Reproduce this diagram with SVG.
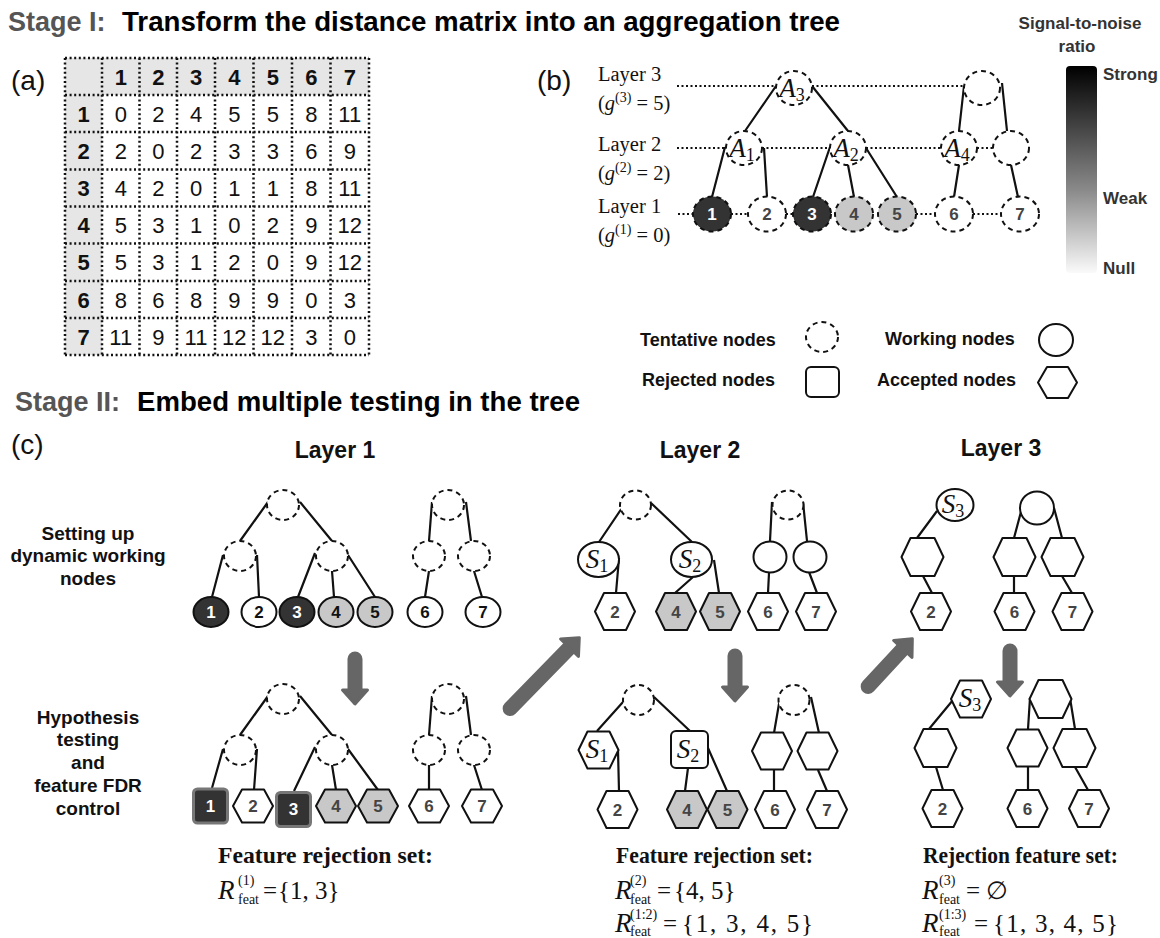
<svg xmlns="http://www.w3.org/2000/svg" width="1160" height="938" viewBox="0 0 1160 938">
<defs>
<style>
.title{font-family:"Liberation Sans",Arial,sans-serif;font-weight:bold;font-size:27px;fill:#000}
.stage{fill:#555}
.lbl{font-family:"Liberation Sans",Arial,sans-serif;font-size:28px;fill:#111}
.mh{font-family:"Liberation Sans",Arial,sans-serif;font-size:22px;font-weight:bold;text-anchor:middle;fill:#111}
.mc{font-family:"Liberation Sans",Arial,sans-serif;font-size:22px;text-anchor:middle;fill:#111}
.grid{stroke:#111;stroke-width:2.5;stroke-dasharray:2 2.6;fill:none}
.t{fill:#fff;stroke:#111;stroke-width:2;stroke-dasharray:5 4}
.w{fill:#fff;stroke:#111;stroke-width:2;stroke-linejoin:round}
.dk{fill:#333}
.gr{fill:#c8c8c8}
.edge{stroke:#111;stroke-width:2.2;fill:none}
.guide{stroke:#111;stroke-width:2;stroke-dasharray:2 2.5;fill:none}
.num{font-family:"Liberation Sans",Arial,sans-serif;font-weight:bold;font-size:17px;text-anchor:middle;fill:#444}
.numw{fill:#fff}
.numb{fill:#111}
.ll{font-family:"Liberation Serif","Times New Roman",serif;font-size:20.5px;fill:#111}
.var{font-family:"Liberation Serif","Times New Roman",serif;font-style:italic;font-size:27px;fill:#111}
.vsub{font-family:"Liberation Serif","Times New Roman",serif;font-style:normal;font-size:18px}
.leg{font-family:"Liberation Sans",Arial,sans-serif;font-weight:bold;font-size:18px;fill:#111}
.side{font-family:"Liberation Sans",Arial,sans-serif;font-weight:bold;font-size:19px;fill:#111;text-anchor:middle}
.lh{font-family:"Liberation Sans",Arial,sans-serif;font-weight:bold;font-size:23px;fill:#111;text-anchor:middle}
.snr{font-family:"Liberation Sans",Arial,sans-serif;font-weight:bold;font-size:17px;fill:#333}
.fr{font-family:"Liberation Serif","Times New Roman",serif;font-weight:bold;font-size:23px;fill:#111}
.mi{font-family:"Liberation Serif","Times New Roman",serif;font-style:italic;font-size:27px;fill:#111}
.ms{font-family:"Liberation Serif","Times New Roman",serif;font-size:14px;fill:#111}
.mr{font-family:"Liberation Serif","DejaVu Serif","Times New Roman",serif;font-size:25px;fill:#111}
.arrow line{stroke:#666;stroke-width:15;stroke-linecap:round}
.arrow polygon{fill:#666;stroke:#666;stroke-width:3;stroke-linejoin:round}
.rej{fill:#333;stroke:#777;stroke-width:3}
</style>
<linearGradient id="snrGrad" x1="0" y1="0" x2="0" y2="1">
<stop offset="0" stop-color="#000"/>
<stop offset="0.6" stop-color="#8a8a8a"/>
<stop offset="1" stop-color="#fafafa"/>
</linearGradient>
<polygon id="hA" points="-20,0 -11,-16.5 11,-16.5 20,0 11,16.5 -11,16.5"/>
<polygon id="hB" points="-20,0 -11,-18.5 11,-18.5 20,0 11,18.5 -11,18.5"/>
<polygon id="hC" points="-21,0 -12,-19 12,-19 21,0 12,19 -12,19"/>
</defs>
<rect width="1160" height="938" fill="#fff"/>

<!-- Titles -->
<text class="title" x="8" y="31"><tspan class="stage">Stage I:</tspan></text>
<text class="title" x="122" y="31" textLength="718" lengthAdjust="spacingAndGlyphs">Transform the distance matrix into an aggregation tree</text>
<text class="title" x="15" y="411"><tspan class="stage">Stage II:</tspan></text>
<text class="title" x="137" y="411" textLength="443" lengthAdjust="spacingAndGlyphs">Embed multiple testing in the tree</text>

<!-- Panel (a) matrix -->
<g id="matrix">
<text class="lbl" x="11" y="90">(a)</text>
<rect x="65" y="58" width="304" height="37" fill="#e6e6e6"/>
<rect x="65" y="95" width="37" height="260" fill="#e6e6e6"/>
<path class="grid" d="M65,58V355M102,58V355M139.5,58V355M177,58V355M215,58V355M253.5,58V355M292,58V355M330.5,58V355M369,58V355M65,58H369M65,95H369M65,132H369M65,169.5H369M65,206.5H369M65,243.5H369M65,281H369M65,318H369M65,355H369"/>
<g class="mh">
<text x="120.75" y="84.5">1</text><text x="158.25" y="84.5">2</text><text x="196" y="84.5">3</text><text x="234.25" y="84.5">4</text><text x="272.75" y="84.5">5</text><text x="311.25" y="84.5">6</text><text x="349.75" y="84.5">7</text>
<text x="83.5" y="121.5">1</text><text x="83.5" y="158.75">2</text><text x="83.5" y="196">3</text><text x="83.5" y="233">4</text><text x="83.5" y="270.25">5</text><text x="83.5" y="307.5">6</text><text x="83.5" y="344.5">7</text>
</g>
<g class="mc">
<text x="120.75" y="121.5">0</text><text x="158.25" y="121.5">2</text><text x="196" y="121.5">4</text><text x="234.25" y="121.5">5</text><text x="272.75" y="121.5">5</text><text x="311.25" y="121.5">8</text><text x="349.75" y="121.5">11</text>
<text x="120.75" y="158.75">2</text><text x="158.25" y="158.75">0</text><text x="196" y="158.75">2</text><text x="234.25" y="158.75">3</text><text x="272.75" y="158.75">3</text><text x="311.25" y="158.75">6</text><text x="349.75" y="158.75">9</text>
<text x="120.75" y="196">4</text><text x="158.25" y="196">2</text><text x="196" y="196">0</text><text x="234.25" y="196">1</text><text x="272.75" y="196">1</text><text x="311.25" y="196">8</text><text x="349.75" y="196">11</text>
<text x="120.75" y="233">5</text><text x="158.25" y="233">3</text><text x="196" y="233">1</text><text x="234.25" y="233">0</text><text x="272.75" y="233">2</text><text x="311.25" y="233">9</text><text x="349.75" y="233">12</text>
<text x="120.75" y="270.25">5</text><text x="158.25" y="270.25">3</text><text x="196" y="270.25">1</text><text x="234.25" y="270.25">2</text><text x="272.75" y="270.25">0</text><text x="311.25" y="270.25">9</text><text x="349.75" y="270.25">12</text>
<text x="120.75" y="307.5">8</text><text x="158.25" y="307.5">6</text><text x="196" y="307.5">8</text><text x="234.25" y="307.5">9</text><text x="272.75" y="307.5">9</text><text x="311.25" y="307.5">0</text><text x="349.75" y="307.5">3</text>
<text x="120.75" y="344.5">11</text><text x="158.25" y="344.5">9</text><text x="196" y="344.5">11</text><text x="234.25" y="344.5">12</text><text x="272.75" y="344.5">12</text><text x="311.25" y="344.5">3</text><text x="349.75" y="344.5">0</text>
</g>
</g>

<!-- Panel (b) labels -->
<text class="lbl" x="537" y="90">(b)</text>
<text class="ll" x="598" y="81">Layer 3</text>
<text class="ll" x="598" y="110">(<tspan font-style="italic">g</tspan><tspan font-size="14" dy="-8">(3)</tspan><tspan dy="8"> = 5)</tspan></text>
<text class="ll" x="598" y="151">Layer 2</text>
<text class="ll" x="598" y="180">(<tspan font-style="italic">g</tspan><tspan font-size="14" dy="-8">(2)</tspan><tspan dy="8"> = 2)</tspan></text>
<text class="ll" x="598" y="213">Layer 1</text>
<text class="ll" x="598" y="242">(<tspan font-style="italic">g</tspan><tspan font-size="14" dy="-8">(1)</tspan><tspan dy="8"> = 0)</tspan></text>

<!-- Connectors -->
<g id="connectors">
<path class="guide" d="M677,86H776M812,86H964M677,148H726M762,148H830M866,148H941M977,148H993M678,214H693M731,214H748M786,214H793M916,214H935M973,214H1001"/>
<path class="edge" d="M776,86L745,131M812,86L848,131M964,86L959,131M1002,83L1007,131M725,147L712,197M764,148L767,197M830,147L813,197M848,165L854,197M866,148L897,197M959,165L954,197M1011,165L1018,197"/>
<path class="edge" d="M268,502L240,541M300,502L332,541M223,555L212,597M257,555L259,597M315,553L298,597M332,571L334,597M348,555L375,597M432,502L429,541M466,502L471,541M429,571L425,597M474,571L482,597"/>
<path class="edge" d="M268,696L240,735M300,696L332,735M223,749L212,788M257,749L254,790M315,747L294,791M332,765L336,790M348,749L378,790M432,696L429,735M466,696L471,735M429,765L429,790M474,765L482,790"/>
<path class="edge" d="M622,508L599,542M651,503L692,542M619,558L616,593M693,577L675,593M714,560L719,593M772,502L770,541M803,502L807,541M769,573L768,593M809,572L817,593"/>
<path class="edge" d="M623,702L597,731M654,697L690,731M618,750L619,791M688,768L685,791M708,748L727,791M780,698L774,733M811,697L819,733M774,770L774,791M818,770L827,791"/>
<path class="edge" d="M937,511L917,538M923,576L932,593M1022,508L1014,538M1054,508L1062,538M1014,576L1014,593M1062,576L1072,593"/>
<path class="edge" d="M953,700L929,729M936,767L943,790M1030,698L1028,729M1070,698L1075,729M1028,767L1028,790M1075,767L1088,790"/>
</g>

<!-- Panel (b) nodes -->
<g id="b-A3"><ellipse class="t" cx="794" cy="88" rx="18" ry="17"/><text class="var" x="792" y="97" text-anchor="middle">A<tspan class="vsub" dy="4">3</tspan></text></g>
<g id="b-top2"><ellipse class="t" cx="982" cy="88" rx="18" ry="17"/></g>
<g id="b-A1"><ellipse class="t" cx="744" cy="148" rx="18" ry="17"/><text class="var" x="742" y="157" text-anchor="middle">A<tspan class="vsub" dy="4">1</tspan></text></g>
<g id="b-A2"><ellipse class="t" cx="848" cy="148" rx="18" ry="17"/><text class="var" x="846" y="157" text-anchor="middle">A<tspan class="vsub" dy="4">2</tspan></text></g>
<g id="b-A4"><ellipse class="t" cx="959" cy="148" rx="18" ry="17"/><text class="var" x="957" y="157" text-anchor="middle">A<tspan class="vsub" dy="4">4</tspan></text></g>
<g id="b-mid5"><ellipse class="t" cx="1011" cy="148" rx="18" ry="17"/></g>
<g id="b-1"><ellipse class="t dk" cx="712" cy="214" rx="19" ry="17.5"/><text class="num numw" x="712" y="220">1</text></g>
<g id="b-2"><ellipse class="t" cx="767" cy="214" rx="19" ry="17.5"/><text class="num" x="767" y="220">2</text></g>
<g id="b-3"><ellipse class="t dk" cx="812" cy="214" rx="19" ry="17.5"/><text class="num numw" x="812" y="220">3</text></g>
<g id="b-4"><ellipse class="t gr" cx="854" cy="214" rx="19" ry="17.5"/><text class="num" x="854" y="220">4</text></g>
<g id="b-5"><ellipse class="t gr" cx="897" cy="214" rx="19" ry="17.5"/><text class="num" x="897" y="220">5</text></g>
<g id="b-6"><ellipse class="t" cx="954" cy="214" rx="19" ry="17.5"/><text class="num" x="954" y="220">6</text></g>
<g id="b-7"><ellipse class="t" cx="1020" cy="214" rx="19" ry="17.5"/><text class="num" x="1020" y="220">7</text></g>

<!-- SNR bar -->
<g id="snr-bar">
<text class="snr" x="1080" y="29" text-anchor="middle">Signal-to-noise</text>
<text class="snr" x="1077" y="52" text-anchor="middle">ratio</text>
<rect x="1066" y="66" width="31" height="207" rx="4" fill="url(#snrGrad)"/>
<text class="snr" x="1103" y="80">Strong</text>
<text class="snr" x="1103" y="204">Weak</text>
<text class="snr" x="1103" y="274">Null</text>
</g>

<!-- Legend -->
<g id="legend">
<text class="leg" x="640" y="346">Tentative nodes</text>
<ellipse class="t" cx="822" cy="337" rx="16" ry="15"/>
<text class="leg" x="885" y="345">Working nodes</text>
<ellipse class="w" cx="1056" cy="340" rx="17" ry="16"/>
<text class="leg" x="642" y="386">Rejected nodes</text>
<rect class="w" x="806" y="367" width="33" height="30" rx="5"/>
<text class="leg" x="877" y="386">Accepted nodes</text>
<polygon class="w" points="1038,382.5 1047,367 1068,367 1077,382.5 1068,398 1047,398"/>
</g>

<!-- Panel (c) headings -->
<text class="lbl" x="11" y="454">(c)</text>
<text class="lh" x="335" y="458">Layer 1</text>
<text class="lh" x="700" y="458">Layer 2</text>
<text class="lh" x="1001" y="456">Layer 3</text>
<g class="side">
<text x="88" y="540">Setting up</text>
<text x="88" y="562">dynamic working</text>
<text x="88" y="585">nodes</text>
<text x="88" y="724">Hypothesis</text>
<text x="88" y="746">testing</text>
<text x="88" y="769">and</text>
<text x="88" y="792">feature FDR</text>
<text x="88" y="815">control</text>
</g>

<!-- Layer 1 top -->
<g id="l1t-r"><ellipse class="t" cx="283" cy="505" rx="16" ry="15"/></g>
<g id="l1t-a"><ellipse class="t" cx="240" cy="556" rx="16" ry="15"/></g>
<g id="l1t-b"><ellipse class="t" cx="332" cy="556" rx="16" ry="15"/></g>
<g id="l1t-r2"><ellipse class="t" cx="448" cy="505" rx="16" ry="15"/></g>
<g id="l1t-c"><ellipse class="t" cx="429" cy="556" rx="16" ry="15"/></g>
<g id="l1t-d"><ellipse class="t" cx="474" cy="556" rx="16" ry="15"/></g>
<g id="l1t-1"><ellipse class="w dk" cx="211" cy="612" rx="17.5" ry="15"/><text class="num numw" x="211" y="618">1</text></g>
<g id="l1t-2"><ellipse class="w" cx="259" cy="612" rx="17.5" ry="15"/><text class="num numb" x="259" y="618">2</text></g>
<g id="l1t-3"><ellipse class="w dk" cx="297" cy="612" rx="17.5" ry="15"/><text class="num numw" x="297" y="618">3</text></g>
<g id="l1t-4"><ellipse class="w gr" cx="336" cy="612" rx="17.5" ry="15"/><text class="num numb" x="336" y="618">4</text></g>
<g id="l1t-5"><ellipse class="w gr" cx="375" cy="612" rx="17.5" ry="15"/><text class="num numb" x="375" y="618">5</text></g>
<g id="l1t-6"><ellipse class="w" cx="425" cy="612" rx="17.5" ry="15"/><text class="num numb" x="425" y="618">6</text></g>
<g id="l1t-7"><ellipse class="w" cx="483" cy="612" rx="17.5" ry="15"/><text class="num numb" x="483" y="618">7</text></g>

<!-- Layer 1 bottom -->
<g id="l1b-r"><ellipse class="t" cx="283" cy="699" rx="16" ry="15"/></g>
<g id="l1b-a"><ellipse class="t" cx="240" cy="750" rx="16" ry="15"/></g>
<g id="l1b-b"><ellipse class="t" cx="332" cy="750" rx="16" ry="15"/></g>
<g id="l1b-r2"><ellipse class="t" cx="448" cy="699" rx="16" ry="15"/></g>
<g id="l1b-c"><ellipse class="t" cx="429" cy="750" rx="16" ry="15"/></g>
<g id="l1b-d"><ellipse class="t" cx="474" cy="750" rx="16" ry="15"/></g>
<g id="l1b-1"><rect class="rej" x="193.5" y="789" width="34" height="34" rx="4"/><text class="num numw" x="210.5" y="812">1</text></g>
<g id="l1b-2"><use href="#hA" x="253" y="806" class="w"/><text class="num" x="253" y="812">2</text></g>
<g id="l1b-3"><rect class="rej" x="276.5" y="792.5" width="34" height="34" rx="4"/><text class="num numw" x="293.5" y="815">3</text></g>
<g id="l1b-4"><use href="#hA" x="336" y="806" class="w gr"/><text class="num" x="336" y="812">4</text></g>
<g id="l1b-5"><use href="#hA" x="378" y="806" class="w gr"/><text class="num" x="378" y="812">5</text></g>
<g id="l1b-6"><use href="#hA" x="429" y="806" class="w"/><text class="num" x="429" y="812">6</text></g>
<g id="l1b-7"><use href="#hA" x="482" y="806" class="w"/><text class="num" x="482" y="812">7</text></g>

<!-- Layer 2 top -->
<g id="l2t-r"><ellipse class="t" cx="635.5" cy="505" rx="15.5" ry="14.5"/></g>
<g id="l2t-r2"><ellipse class="t" cx="788" cy="505" rx="15.5" ry="14.5"/></g>
<g id="l2t-S1"><ellipse class="w" cx="598.5" cy="559.5" rx="20.5" ry="17.5"/><text class="var" x="597" y="568" text-anchor="middle">S<tspan class="vsub" dy="4">1</tspan></text></g>
<g id="l2t-S2"><ellipse class="w" cx="691.5" cy="559.5" rx="20.5" ry="17.5"/><text class="var" x="690" y="568" text-anchor="middle">S<tspan class="vsub" dy="4">2</tspan></text></g>
<g id="l2t-c"><ellipse class="w" cx="770" cy="557" rx="16.5" ry="15.5"/></g>
<g id="l2t-d"><ellipse class="w" cx="810" cy="557" rx="16.5" ry="15.5"/></g>
<g id="l2t-2"><use href="#hB" x="615" y="611.5" class="w"/><text class="num" x="615" y="617.5">2</text></g>
<g id="l2t-4"><use href="#hB" x="676" y="611.5" class="w gr"/><text class="num" x="676" y="617.5">4</text></g>
<g id="l2t-5"><use href="#hB" x="720" y="611.5" class="w gr"/><text class="num" x="720" y="617.5">5</text></g>
<g id="l2t-6"><use href="#hB" x="768" y="611.5" class="w"/><text class="num" x="768" y="617.5">6</text></g>
<g id="l2t-7"><use href="#hB" x="816" y="611.5" class="w"/><text class="num" x="816" y="617.5">7</text></g>

<!-- Layer 2 bottom -->
<g id="l2b-r"><ellipse class="t" cx="638.5" cy="700" rx="15.5" ry="15"/></g>
<g id="l2b-r2"><ellipse class="t" cx="794" cy="700" rx="15.5" ry="15"/></g>
<g id="l2b-S1"><use href="#hB" x="598.5" y="750" class="w"/><text class="var" x="597" y="758" text-anchor="middle">S<tspan class="vsub" dy="4">1</tspan></text></g>
<g id="l2b-S2"><rect class="w" x="671" y="731" width="37" height="37" rx="5"/><text class="var" x="688" y="758" text-anchor="middle">S<tspan class="vsub" dy="4">2</tspan></text></g>
<g id="l2b-c"><use href="#hB" x="772" y="751" class="w"/></g>
<g id="l2b-d"><use href="#hB" x="817.5" y="751" class="w"/></g>
<g id="l2b-2"><use href="#hB" x="617.5" y="809.5" class="w"/><text class="num" x="617.5" y="815.5">2</text></g>
<g id="l2b-4"><use href="#hB" x="687" y="809.5" class="w gr"/><text class="num" x="687" y="815.5">4</text></g>
<g id="l2b-5"><use href="#hB" x="727.5" y="809.5" class="w gr"/><text class="num" x="727.5" y="815.5">5</text></g>
<g id="l2b-6"><use href="#hB" x="775" y="809.5" class="w"/><text class="num" x="775" y="815.5">6</text></g>
<g id="l2b-7"><use href="#hB" x="827" y="809.5" class="w"/><text class="num" x="827" y="815.5">7</text></g>

<!-- Layer 3 top -->
<g id="l3t-S3"><ellipse class="w" cx="955" cy="505" rx="18.5" ry="16"/><text class="var" x="953" y="513" text-anchor="middle">S<tspan class="vsub" dy="4">3</tspan></text></g>
<g id="l3t-a"><use href="#hC" x="922.5" y="557" class="w"/></g>
<g id="l3t-r2"><ellipse class="w" cx="1037" cy="508" rx="17" ry="16.5"/></g>
<g id="l3t-c"><use href="#hC" x="1014.5" y="557" class="w"/></g>
<g id="l3t-d"><use href="#hC" x="1062.5" y="557" class="w"/></g>
<g id="l3t-2"><use href="#hB" x="931" y="611.5" class="w"/><text class="num" x="931" y="617.5">2</text></g>
<g id="l3t-6"><use href="#hB" x="1014.5" y="611.5" class="w"/><text class="num" x="1014.5" y="617.5">6</text></g>
<g id="l3t-7"><use href="#hB" x="1072.5" y="611.5" class="w"/><text class="num" x="1072.5" y="617.5">7</text></g>

<!-- Layer 3 bottom -->
<g id="l3b-S3"><use href="#hB" x="971" y="699" class="w"/><text class="var" x="970" y="707" text-anchor="middle">S<tspan class="vsub" dy="4">3</tspan></text></g>
<g id="l3b-a"><use href="#hC" x="935.5" y="748" class="w"/></g>
<g id="l3b-r2"><use href="#hC" x="1050.5" y="699" class="w"/></g>
<g id="l3b-c"><use href="#hB" x="1027.5" y="748" class="w"/></g>
<g id="l3b-d"><use href="#hC" x="1074.5" y="748" class="w"/></g>
<g id="l3b-2"><use href="#hB" x="942.5" y="808.5" class="w"/><text class="num" x="942.5" y="814.5">2</text></g>
<g id="l3b-6"><use href="#hB" x="1027.5" y="808.5" class="w"/><text class="num" x="1027.5" y="814.5">6</text></g>
<g id="l3b-7"><use href="#hB" x="1089" y="808.5" class="w"/><text class="num" x="1089" y="814.5">7</text></g>

<!-- Process arrows -->
<g id="arrows" class="arrow">
<g transform="translate(355,705)"><line x1="0" y1="-46" x2="0" y2="-14"/><polygon points="-12.5,-15 12.5,-15 0,-1"/></g>
<g transform="translate(735,702)"><line x1="0" y1="-46" x2="0" y2="-14"/><polygon points="-12.5,-15 12.5,-15 0,-1"/></g>
<g transform="translate(1010,697)"><line x1="0" y1="-46" x2="0" y2="-14"/><polygon points="-12.5,-15 12.5,-15 0,-1"/></g>
<g transform="translate(580,637) rotate(224.3)"><line x1="0" y1="-100" x2="0" y2="-14"/><polygon points="-12.5,-15 12.5,-15 0,-1"/></g>
<g transform="translate(913,638) rotate(222.8)"><line x1="0" y1="-66" x2="0" y2="-14"/><polygon points="-12.5,-15 12.5,-15 0,-1"/></g>
</g>

<!-- Rejection sets -->
<g id="set-l1">
<text class="fr" x="218" y="863" textLength="215" lengthAdjust="spacingAndGlyphs">Feature rejection set:</text>
<text class="mi" x="218" y="899">R</text><text class="ms" x="238" y="885">(1)</text><text class="ms" x="238" y="904">feat</text>
<text class="mr" x="263" y="899">=</text><text class="mr" x="278" y="899">{1, 3}</text>
</g>
<g id="set-l2">
<text class="fr" x="616" y="863" font-size="21.5" textLength="197" lengthAdjust="spacingAndGlyphs">Feature rejection set:</text>
<text class="mi" x="615" y="899">R</text><text class="ms" x="630" y="885">(2)</text><text class="ms" x="630" y="904">feat</text>
<text class="mr" x="657" y="899">=</text><text class="mr" x="674" y="899">{4, 5}</text>
<text class="mi" x="615" y="932">R</text><text class="ms" x="630" y="919">(1:2)</text><text class="ms" x="630" y="936">feat</text>
<text class="mr" x="663" y="932">=</text><text class="mr" x="682" y="932" textLength="131">{1, 3, 4, 5}</text>
</g>
<g id="set-l3">
<text class="fr" x="923" y="863" font-size="21.5" textLength="195" lengthAdjust="spacingAndGlyphs">Rejection feature set:</text>
<text class="mi" x="922" y="899">R</text><text class="ms" x="939" y="885">(3)</text><text class="ms" x="939" y="904">feat</text>
<text class="mr" x="966" y="899">=</text><text class="mr" x="986" y="899">∅</text>
<text class="mi" x="922" y="932">R</text><text class="ms" x="939" y="919">(1:3)</text><text class="ms" x="939" y="936">feat</text>
<text class="mr" x="974" y="932">=</text><text class="mr" x="993" y="932" textLength="125">{1, 3, 4, 5}</text>
</g>
</svg>
